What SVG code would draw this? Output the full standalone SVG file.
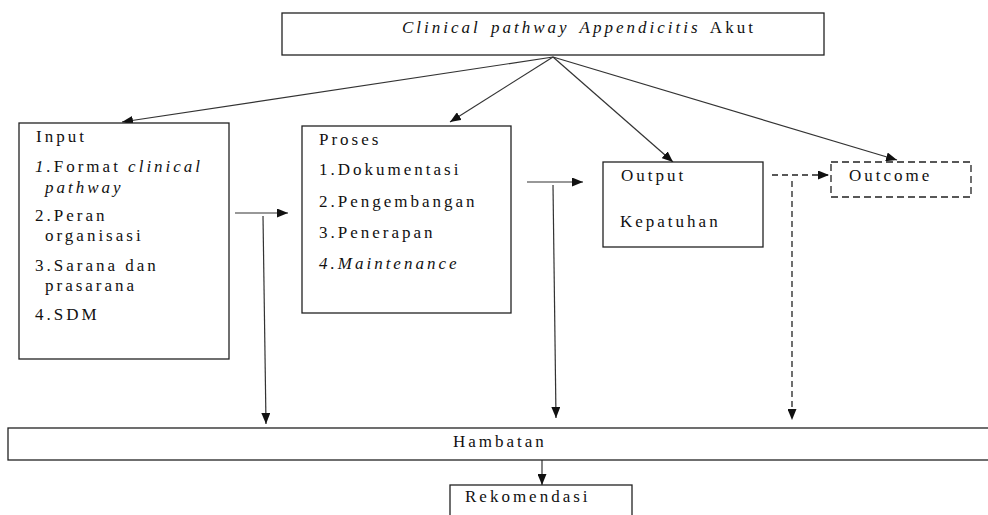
<svg xmlns="http://www.w3.org/2000/svg" width="988" height="515" viewBox="0 0 988 515">
<defs>
<marker id="ah" markerUnits="userSpaceOnUse" markerWidth="11" markerHeight="9" refX="11" refY="4.5" orient="auto">
<path d="M0,0 L11,4.5 L0,9 z" fill="#111"/>
</marker>
<style>
.box{fill:#fff;stroke:#222;stroke-width:1.3}
.dbox{fill:#fff;stroke:#222;stroke-width:1.3;stroke-dasharray:7,4}
.t{font-family:"Liberation Serif","Times New Roman",serif;font-size:17px;letter-spacing:3px;fill:#111}
.i{font-style:italic}
.ln{fill:none;stroke:#333;stroke-width:1.2}
.dl{fill:none;stroke:#222;stroke-width:1.3;stroke-dasharray:6,4}
</style>
</defs>
<rect width="988" height="515" fill="#fff"/>

<g id="connectors">
<line class="ln" x1="553" y1="57" x2="122" y2="122" marker-end="url(#ah)"/>
<line class="ln" x1="553" y1="57" x2="450" y2="122" marker-end="url(#ah)"/>
<line class="ln" x1="553" y1="57" x2="673" y2="162" marker-end="url(#ah)"/>
<line class="ln" x1="553" y1="57" x2="897" y2="160" marker-end="url(#ah)"/>
<line class="ln" x1="235" y1="213" x2="288" y2="213" marker-end="url(#ah)"/>
<line class="ln" x1="263" y1="216" x2="266" y2="424" marker-end="url(#ah)"/>
<line class="ln" x1="527" y1="182" x2="583" y2="182" marker-end="url(#ah)"/>
<line class="ln" x1="553" y1="185" x2="556" y2="418" marker-end="url(#ah)"/>
<line class="dl" x1="772" y1="175" x2="829" y2="175" marker-end="url(#ah)"/>
<line class="dl" x1="792" y1="181" x2="792" y2="420" marker-end="url(#ah)"/>
<line class="ln" x1="542" y1="460" x2="542" y2="485" marker-end="url(#ah)"/>
</g>

<g id="title">
<rect class="box" x="282" y="13" width="542" height="42"/>
<text class="t" x="402" y="33" style="word-spacing:3px"><tspan class="i">Clinical pathway Appendicitis</tspan> Akut</text>
</g>

<g id="input">
<rect class="box" x="19" y="123" width="210" height="236"/>
<text class="t" x="36" y="142">Input</text>
<text class="t" x="35" y="172"><tspan class="i">1.</tspan>Format <tspan class="i">clinical</tspan></text>
<text class="t i" x="45" y="193">pathway</text>
<text class="t" x="35" y="221">2.Peran</text>
<text class="t" x="45" y="241">organisasi</text>
<text class="t" x="35" y="271">3.Sarana dan</text>
<text class="t" x="45" y="291">prasarana</text>
<text class="t" x="35" y="320">4.SDM</text>
</g>

<g id="proses">
<rect class="box" x="302" y="126" width="209" height="187"/>
<text class="t" x="319" y="145">Proses</text>
<text class="t" x="319" y="175">1.Dokumentasi</text>
<text class="t" x="319" y="207">2.Pengembangan</text>
<text class="t" x="319" y="238">3.Penerapan</text>
<text class="t i" x="319" y="269">4.Maintenance</text>
</g>

<g id="output">
<rect class="box" x="603" y="162" width="160" height="85"/>
<text class="t" x="621" y="181">Output</text>
<text class="t" x="620" y="227">Kepatuhan</text>
</g>

<g id="outcome">
<rect class="dbox" x="831" y="162" width="140" height="35"/>
<text class="t" x="849" y="181">Outcome</text>
</g>

<g id="hambatan">
<rect class="box" x="8" y="428" width="990" height="32"/>
<text class="t" x="453" y="447">Hambatan</text>
</g>

<g id="rekomendasi">
<rect class="box" x="450" y="485" width="182" height="40"/>
<text class="t" x="465" y="502">Rekomendasi</text>
</g>
</svg>
